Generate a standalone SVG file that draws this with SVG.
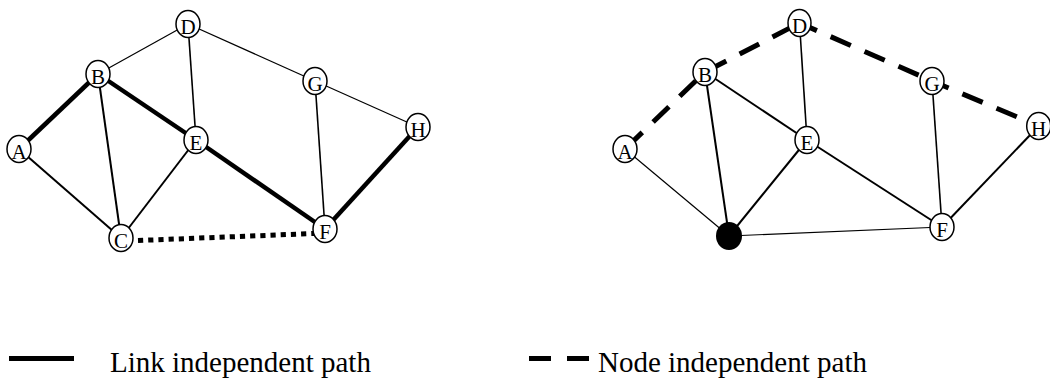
<svg xmlns="http://www.w3.org/2000/svg" width="1050" height="379" viewBox="0 0 1050 379">
<style>
  .node ellipse { fill: #fff; stroke: #000; stroke-width: 1.5; }
  .node text { font-family: "Liberation Serif", "Times New Roman", serif; font-size: 21px; text-anchor: middle; fill: #000; }
  .e { stroke: #000; fill: none; }
  .thin { stroke-width: 1.2; }
  .mid { stroke-width: 1.6; }
  .med { stroke-width: 2; }
  .thick { stroke-width: 4.5; }
  .dot { stroke-width: 5; stroke-dasharray: 5.2 5; }
  .dash { stroke-width: 5; stroke-dasharray: 22 15; }
  .legend { font-family: "Liberation Serif", "Times New Roman", serif; font-size: 29px; fill: #000; }
</style>
<rect width="1050" height="379" fill="#fff"/>
<g id="connectors">
  <!-- left graph -->
  <line class="e thin" x1="98" y1="74" x2="188" y2="24"/>
  <line class="e thin" x1="188" y1="24" x2="315" y2="81"/>
  <line class="e thin" x1="315" y1="81" x2="418" y2="127"/>
  <line class="e mid" x1="188" y1="24" x2="196" y2="140"/>
  <line class="e mid" x1="315" y1="81" x2="325" y2="229"/>
  <line class="e med" x1="19" y1="149" x2="121" y2="238"/>
  <line class="e med" x1="98" y1="74" x2="121" y2="238"/>
  <line class="e med" x1="121" y1="238" x2="196" y2="140"/>
  <line class="e thick" x1="19" y1="149" x2="98" y2="74"/>
  <line class="e thick" x1="98" y1="74" x2="196" y2="140"/>
  <line class="e thick" x1="196" y1="140" x2="325" y2="229"/>
  <line class="e thick" x1="325" y1="229" x2="418" y2="127"/>
  <line class="e dot" x1="138" y1="240.5" x2="314" y2="233.5"/>
  <!-- right graph -->
  <line class="e thin" x1="625" y1="149" x2="729" y2="236"/>
  <line class="e thin" x1="729" y1="236" x2="942" y2="227"/>
  <line class="e mid" x1="799.5" y1="23" x2="807" y2="140"/>
  <line class="e mid" x1="932" y1="81" x2="942" y2="227"/>
  <line class="e med" x1="705" y1="72" x2="729" y2="236"/>
  <line class="e med" x1="729" y1="236" x2="807" y2="140"/>
  <line class="e med" x1="705" y1="72" x2="807" y2="140"/>
  <line class="e med" x1="807" y1="140" x2="942" y2="227"/>
  <line class="e med" x1="942" y1="227" x2="1038.7" y2="126"/>
  <line class="e dash" x1="625" y1="149" x2="705" y2="72" stroke-dashoffset="-2"/>
  <line class="e dash" x1="705" y1="72" x2="799.5" y2="23" stroke-dashoffset="-2"/>
  <line class="e dash" x1="799.5" y1="23" x2="932" y2="81" stroke-dashoffset="3"/>
  <line class="e dash" x1="932" y1="81" x2="1038.7" y2="126" stroke-dashoffset="4"/>
</g>
<!-- left graph nodes -->
<g id="L-A" class="node"><ellipse cx="19" cy="149" rx="12" ry="13.5"/><text x="19" y="159">A</text></g>
<g id="L-B" class="node"><ellipse cx="98" cy="74" rx="12" ry="13.5"/><text x="98" y="84">B</text></g>
<g id="L-C" class="node"><ellipse cx="121" cy="238" rx="12" ry="13.5"/><text x="121" y="248">C</text></g>
<g id="L-D" class="node"><ellipse cx="188" cy="24" rx="12" ry="13.5"/><text x="188" y="34">D</text></g>
<g id="L-E" class="node"><ellipse cx="196" cy="140" rx="12" ry="13.5"/><text x="196" y="150">E</text></g>
<g id="L-F" class="node"><ellipse cx="325" cy="229" rx="12" ry="13.5"/><text x="325" y="239">F</text></g>
<g id="L-G" class="node"><ellipse cx="315" cy="81" rx="12" ry="13.5"/><text x="315" y="91">G</text></g>
<g id="L-H" class="node"><ellipse cx="418" cy="127" rx="12" ry="13.5"/><text x="418" y="137">H</text></g>
<!-- right graph nodes -->
<g id="R-A" class="node"><ellipse cx="625" cy="149" rx="12" ry="13.5"/><text x="625" y="159">A</text></g>
<g id="R-B" class="node"><ellipse cx="705" cy="72" rx="12" ry="13.5"/><text x="705" y="82">B</text></g>
<g id="R-C"><ellipse cx="729" cy="236" rx="13" ry="14" fill="#000"/></g>
<g id="R-D" class="node"><ellipse cx="799.5" cy="23" rx="11.5" ry="13.5"/><text x="799.5" y="33">D</text></g>
<g id="R-E" class="node"><ellipse cx="807" cy="140" rx="12" ry="13.5"/><text x="807" y="150">E</text></g>
<g id="R-F" class="node"><ellipse cx="942" cy="227" rx="12" ry="13.5"/><text x="942" y="237">F</text></g>
<g id="R-G" class="node"><ellipse cx="932" cy="81" rx="12" ry="13.5"/><text x="932" y="91">G</text></g>
<g id="R-H" class="node"><ellipse cx="1038.7" cy="126" rx="12" ry="13.5"/><text x="1038.7" y="136">H</text></g>
<!-- legend -->
<g id="legend">
  <line x1="9" y1="358.5" x2="74" y2="358.5" stroke="#000" stroke-width="5"/>
  <text class="legend" x="110" y="372">Link independent path</text>
  <line x1="529" y1="358.5" x2="589" y2="358.5" stroke="#000" stroke-width="5" stroke-dasharray="22 16"/>
  <text class="legend" x="598" y="372">Node independent path</text>
</g>
</svg>
